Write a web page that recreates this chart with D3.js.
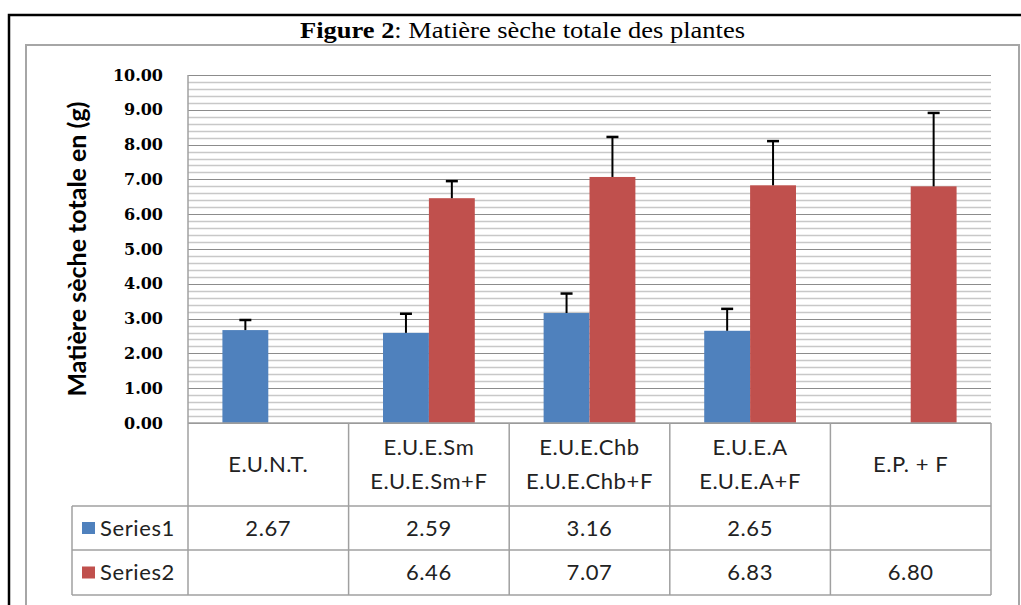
<!DOCTYPE html>
<html>
<head>
<meta charset="utf-8">
<script src="https://cdn.jsdelivr.net/npm/d3@7"></script>
<style>
  body { margin: 0; background: #fff; }
  svg { display: block; }
</style>
</head>
<body>
<script>
// chart values
var categories = [["E.U.N.T."], ["E.U.E.Sm", "E.U.E.Sm+F"], ["E.U.E.Chb", "E.U.E.Chb+F"], ["E.U.E.A", "E.U.E.A+F"], ["E.P. + F"]];
var seriesNames = ["Series1", "Series2"];
var series1 = [2.67, 2.59, 3.16, 2.65, null];
var series2 = [null, 6.46, 7.07, 6.83, 6.80];
var err1 = [0.29, 0.55, 0.56, 0.63, null];
var err2 = [null, 0.49, 1.15, 1.27, 2.11];
var yTicks = [0, 1, 2, 3, 4, 5, 6, 7, 8, 9, 10];

var width = 1021, height = 605;
var colors = ["#4f81bd", "#c0504d"];
var sansFont = "Lato, 'Open Sans', sans-serif";

var svg = d3.select("body").append("svg").attr("width", width).attr("height", height);

// outer black frame and title
svg.append("rect").attr("x", 9).attr("y", 15).attr("width", 1030).attr("height", 620)
  .attr("fill", "none").attr("stroke", "#000").attr("stroke-width", 2.5);

var title = svg.append("text").attr("x", 300).attr("y", 38)
  .attr("textLength", 445).attr("lengthAdjust", "spacingAndGlyphs")
  .style("font-family", "'Liberation Serif', 'Times New Roman', serif").style("font-size", "24px");
title.append("tspan").attr("font-weight", "bold").text("Figure 2");
title.append("tspan").text(": Matière sèche totale des plantes");

// inner chart frame
svg.append("rect").attr("x", 26).attr("y", 45).attr("width", 993).attr("height", 600)
  .attr("fill", "none").attr("stroke", "#a6a6a6").attr("stroke-width", 2);

// scales
var plotL = 188, plotR = 991, plotT = 75, plotB = 423;
var x0 = d3.scaleBand().domain(d3.range(categories.length)).range([plotL, plotR]);
var x1 = d3.scaleBand().domain([0, 1]).range([0, x0.bandwidth()]).paddingOuter(0.75);
var y = d3.scaleLinear().domain([0, 10]).range([plotB, plotT]);

// gridlines
var grid = svg.append("g");
grid.selectAll("line.minor").data(d3.range(0, 10.001, 0.2).filter(function(v){ return Math.abs(v - Math.round(v)) > 0.01; }))
  .enter().append("line")
  .attr("x1", plotL).attr("x2", plotR)
  .attr("y1", function(d){ return Math.round(y(d)) + 0.5; })
  .attr("y2", function(d){ return Math.round(y(d)) + 0.5; })
  .attr("stroke", "#c8c8c8").attr("stroke-width", 1.5);
grid.selectAll("line.major").data(yTicks).enter().append("line")
  .attr("x1", plotL).attr("x2", plotR)
  .attr("y1", function(d){ return Math.round(y(d)) + 0.5; })
  .attr("y2", function(d){ return Math.round(y(d)) + 0.5; })
  .attr("stroke", "#8c8c8c").attr("stroke-width", 1.2);

// y axis
var yAxis = d3.axisLeft(y).tickValues(yTicks).tickFormat(d3.format(".2f")).tickSize(0).tickPadding(25);
var ya = svg.append("g").attr("transform", "translate(" + plotL + ",0)").call(yAxis);
ya.select(".domain").remove();
ya.selectAll("text").style("font-family", "'DejaVu Serif', serif").style("font-size", "16px")
  .style("font-weight", "bold").attr("fill", "#000");

svg.append("text").attr("transform", "translate(86," + ((plotT + plotB) / 2) + ") rotate(-90)")
  .attr("text-anchor", "middle").style("font-family", sansFont).style("font-size", "25px")
  .style("font-weight", "bold").text("Matière sèche totale en (g)");

// bars
var seriesData = [series1, series2];
var errData = [err1, err2];
seriesData.forEach(function(vals, s) {
  var rows = vals.map(function(v, i){ return {i: i, v: v, e: errData[s][i]}; }).filter(function(d){ return d.v != null; });
  var g = svg.append("g");
  g.selectAll("rect").data(rows).enter().append("rect")
    .attr("x", function(d){ return x0(d.i) + x1(s); })
    .attr("width", x1.bandwidth())
    .attr("y", function(d){ return y(d.v); })
    .attr("height", function(d){ return y(0) - y(d.v); })
    .attr("fill", colors[s]);
  // plus error bars
  var eg = g.selectAll("g.err").data(rows).enter().append("g")
    .attr("transform", function(d){ return "translate(" + (x0(d.i) + x1(s) + x1.bandwidth() / 2) + ",0)"; });
  eg.append("line").attr("x1", 0).attr("x2", 0)
    .attr("y1", function(d){ return y(d.v); })
    .attr("y2", function(d){ return y(d.v + d.e); })
    .attr("stroke", "#000").attr("stroke-width", 2);
  eg.append("line").attr("x1", -6).attr("x2", 6)
    .attr("y1", function(d){ return y(d.v + d.e); })
    .attr("y2", function(d){ return y(d.v + d.e); })
    .attr("stroke", "#000").attr("stroke-width", 2.5);
});

// data table
var legL = 72, row1 = 506, row2 = 550, row3 = 595;
var tbl = svg.append("g").attr("stroke", "#a0a0a0").attr("stroke-width", 1.5);
tbl.append("line").attr("x1", plotL).attr("x2", plotL).attr("y1", plotT).attr("y2", row3);
tbl.append("line").attr("x1", plotL).attr("x2", plotR).attr("y1", plotB).attr("y2", plotB);
[row1, row2, row3].forEach(function(yy){ tbl.append("line").attr("x1", legL).attr("x2", plotR).attr("y1", yy).attr("y2", yy); });
tbl.append("line").attr("x1", legL).attr("x2", legL).attr("y1", row1).attr("y2", row3);
categories.forEach(function(c, i){
  var xx = x0(i) + x0.bandwidth();
  tbl.append("line").attr("x1", xx).attr("x2", xx).attr("y1", plotB).attr("y2", row3);
});

var txt = svg.append("g").style("font-family", sansFont).style("font-size", "22px")
  .style("letter-spacing", "0.6px").attr("fill", "#222");
categories.forEach(function(c, i){
  var cx = x0(i) + x0.bandwidth() / 2;
  var mid = (plotB + row1) / 2;
  c.forEach(function(line, k){
    txt.append("text").attr("x", cx).attr("y", mid + (k - (c.length - 1) / 2) * 34)
      .attr("dy", "0.35em").attr("text-anchor", "middle").text(line);
  });
  seriesData.forEach(function(vals, s){
    if (vals[i] == null) return;
    var my = s === 0 ? (row1 + row2) / 2 : (row2 + row3) / 2;
    txt.append("text").attr("x", cx).attr("y", my).attr("dy", "0.35em")
      .attr("text-anchor", "middle").text(d3.format(".2f")(vals[i]));
  });
});
seriesNames.forEach(function(n, s){
  var my = s === 0 ? (row1 + row2) / 2 : (row2 + row3) / 2;
  svg.append("rect").attr("x", 82).attr("y", my - 6).attr("width", 13).attr("height", 12).attr("fill", colors[s]);
  txt.append("text").attr("x", 100).attr("y", my).attr("dy", "0.35em").text(n);
});
</script>
</body>
</html>
